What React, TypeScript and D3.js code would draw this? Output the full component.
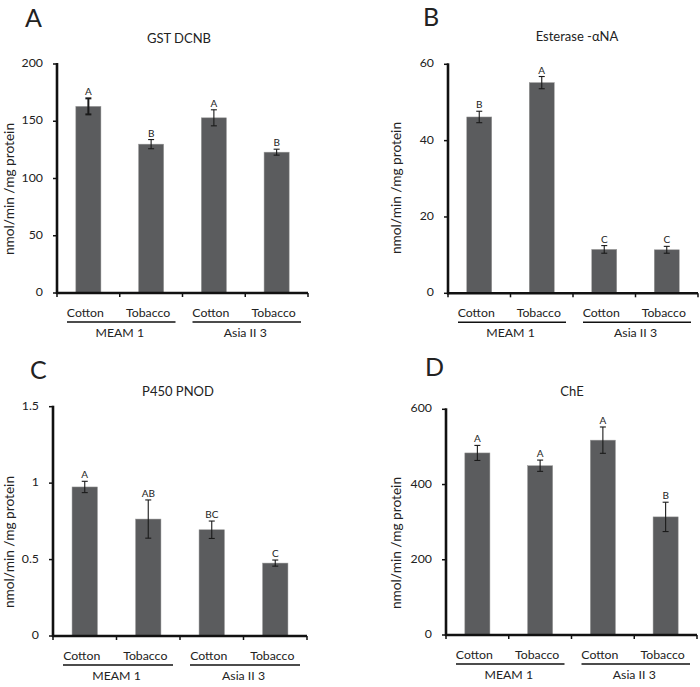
import React from "react";
import * as d3 from "d3";

const categories = ["Cotton", "Tobacco", "Cotton", "Tobacco"];
const groups = ["MEAM 1", "Asia II 3"];
const yLabel = "nmol/min /mg protein";

const gstValues = [163, 130, 153, 123];
const gstErrors = [7, 4, 7, 2.6];
const gstLetters = ["A", "B", "A", "B"];
const gstTicks = [0, 50, 100, 150, 200];

const estValues = [46.2, 55.2, 11.5, 11.4];
const estErrors = [1.5, 1.6, 1.0, 0.9];
const estLetters = ["B", "A", "C", "C"];
const estTicks = [0, 20, 40, 60];

const p450Values = [0.975, 0.765, 0.695, 0.477];
const p450Errors = [0.037, 0.125, 0.057, 0.02];
const p450Letters = ["A", "AB", "BC", "C"];
const p450Ticks = [0, 0.5, 1, 1.5];

const cheValues = [484, 450, 518, 314];
const cheErrors = [20, 15, 35, 39];
const cheLetters = ["A", "A", "A", "B"];
const cheTicks = [0, 200, 400, 600];

const FONT = "Lato, 'Open Sans', sans-serif";
const TXT = "#222";

type PanelProps = {
  label: string;
  title: string;
  values: number[];
  errors: number[];
  letters: string[];
  ticks: number[];
  axisX: number;
  xEnd: number;
  yTop: number;
  yZero: number;
  titleX: number;
  titleY: number;
  labelX: number;
  labelY: number;
  yLabX: number;
  yLabY: number;
  thickFirst?: boolean;
};

function Panel(p: PanelProps) {
  const x = d3
    .scaleBand<number>()
    .domain(d3.range(categories.length))
    .range([p.axisX, p.xEnd])
    .padding(0);
  const y = d3
    .scaleLinear()
    .domain([0, p.ticks[p.ticks.length - 1]])
    .range([p.yZero, p.yTop]);
  const bw = x.bandwidth() * 0.4;
  const cap = 3;
  const groupBands = groups.map((g, gi) => {
    const a = x(gi * 2)!;
    const b = x(gi * 2 + 1)! + x.bandwidth();
    return { g, a, b };
  });
  return (
    <g>
      <text x={p.labelX} y={p.labelY} fontFamily={FONT} fontSize={25} fill={TXT}>
        {p.label}
      </text>
      <text x={p.titleX} y={p.titleY} fontFamily={FONT} fontSize={13} fill={TXT} textAnchor="middle">
        {p.title}
      </text>
      <text
        transform={`translate(${p.yLabX},${p.yLabY}) rotate(-90)`}
        fontFamily={FONT}
        fontSize={13.7}
        fill={TXT}
        textAnchor="middle"
        dominantBaseline="middle"
      >
        {yLabel}
      </text>
      {p.values.map((v, i) => {
        const cx = x(i)! + x.bandwidth() / 2;
        const top = y(v + p.errors[i]);
        const bot = y(v - p.errors[i]);
        const sw = p.thickFirst && i === 0 ? 2 : 1.1;
        return (
          <g key={i}>
            <rect x={cx - bw / 2} y={y(v)} width={bw} height={p.yZero - y(v)} fill="#5b5c5e" stroke="#9a9a9a" strokeWidth={0.5} />
            <line x1={cx} x2={cx} y1={top} y2={bot} stroke="#1a1a1a" strokeWidth={sw} />
            <line x1={cx - cap} x2={cx + cap} y1={top} y2={top} stroke="#1a1a1a" strokeWidth={sw} />
            <line x1={cx - cap} x2={cx + cap} y1={bot} y2={bot} stroke="#1a1a1a" strokeWidth={sw} />
            <text x={cx} y={top - 3} fontFamily={FONT} fontSize={10} fill={TXT} textAnchor="middle">
              {p.letters[i]}
            </text>
            <text x={cx - 3} y={p.yZero + 24} fontFamily={FONT} fontSize={12.3} fill={TXT} textAnchor="middle">
              {categories[i]}
            </text>
          </g>
        );
      })}
      {p.ticks.map((t) => (
        <g key={t}>
          <line x1={p.axisX - 4} x2={p.axisX} y1={y(t)} y2={y(t)} stroke="#111" strokeWidth={1.5} />
          <text x={p.axisX - 14} y={y(t)} fontFamily={FONT} fontSize={12.3} fill={TXT} textAnchor="end" dominantBaseline="middle">
            {String(t)}
          </text>
        </g>
      ))}
      {d3.range(categories.length + 1).map((i) => {
        const tx = i < categories.length ? x(i)! : p.xEnd;
        return <line key={i} x1={tx} x2={tx} y1={p.yZero} y2={p.yZero + 4} stroke="#111" strokeWidth={1.5} />;
      })}
      <line x1={p.axisX} x2={p.axisX} y1={p.yTop - 1} y2={p.yZero + 1} stroke="#111" strokeWidth={2.6} />
      <line x1={p.axisX - 1} x2={p.xEnd} y1={p.yZero} y2={p.yZero} stroke="#111" strokeWidth={2.6} />
      {groupBands.map(({ g, a, b }) => (
        <g key={g}>
          <line x1={a + 10} x2={b - 7} y1={p.yZero + 29} y2={p.yZero + 29} stroke="#111" strokeWidth={1.6} />
          <text x={(a + b) / 2} y={p.yZero + 44} fontFamily={FONT} fontSize={12.3} fill={TXT} textAnchor="middle">
            {g}
          </text>
        </g>
      ))}
    </g>
  );
}

export default function App() {
  return (
    <svg width={700} height={687} style={{ position: "absolute", left: 0, top: 0, background: "#fff" }}>
      <rect width={700} height={687} fill="#fff" />
      <Panel
        label="A" title="GST DCNB" values={gstValues} errors={gstErrors} letters={gstLetters} ticks={gstTicks}
        axisX={57} xEnd={308} yTop={64} yZero={293}
        titleX={179} titleY={43} labelX={25} labelY={27} yLabX={11} yLabY={189} thickFirst
      />
      <Panel
        label="B" title="Esterase -αNA" values={estValues} errors={estErrors} letters={estLetters} ticks={estTicks}
        axisX={448} xEnd={698} yTop={64.3} yZero={293.3}
        titleX={577} titleY={41} labelX={423} labelY={26} yLabX={398} yLabY={188}
      />
      <Panel
        label="C" title="P450 PNOD" values={p450Values} errors={p450Errors} letters={p450Letters} ticks={p450Ticks}
        axisX={53} xEnd={307} yTop={406.7} yZero={636}
        titleX={178} titleY={396} labelX={30} labelY={379} yLabX={11} yLabY={542}
      />
      <Panel
        label="D" title="ChE" values={cheValues} errors={cheErrors} letters={cheLetters} ticks={cheTicks}
        axisX={446} xEnd={697} yTop={409.3} yZero={635}
        titleX={572} titleY={396} labelX={425} labelY={376} yLabX={398} yLabY={543}
      />
    </svg>
  );
}
